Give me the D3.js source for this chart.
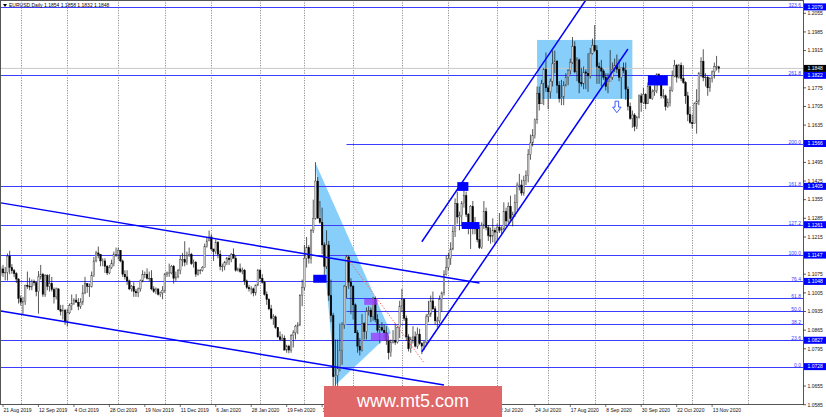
<!DOCTYPE html>
<html><head><meta charset="utf-8">
<script src="https://cdn.jsdelivr.net/npm/d3@7"></script>
<style>html,body{margin:0;padding:0;background:#fff;overflow:hidden}svg{display:block}</style>
</head><body>
<svg id="c" width="826" height="417"></svg>
<script>
// ---------------- DATA ----------------
const symbolTitle = "EURUSD,Daily";
const lastQuote = [1.1854, 1.1858, 1.1832, 1.1848];
const firstDate = "2019-08-20";
const holidays = ["2019-12-25", "2020-01-01"];

const opens = [
// Aug 2019
1.1078,1.1095,1.1080,1.1082,1.1143,1.1100,1.1088,1.1077,1.1057,
// Sep 2019
1.0985,1.0970,1.0972,1.1034,1.1030,1.1027,1.1047,1.1043,1.1010,1.1065,1.1075,1.1000,1.1070,1.1030,1.1040,1.1018,1.0990,1.1020,1.0942,1.0935,1.0940,
// Oct 2019
1.0900,1.0930,1.0957,1.0965,1.0978,1.0970,1.0955,1.0970,1.1005,1.1040,1.1030,1.1030,1.1070,1.1125,1.1155,1.1150,1.1125,1.1125,1.1105,1.1080,1.1100,1.1115,1.1150,
// Nov 2019
1.1150,1.1165,1.1125,1.1075,1.1065,1.1050,1.1020,1.1030,1.1010,1.1005,1.1020,1.1050,1.1075,1.1075,1.1060,1.1060,1.1020,1.1010,1.1020,1.1000,1.1005,
// Dec 2019
1.1015,1.1075,1.1080,1.1080,1.1105,1.1060,1.1065,1.1090,1.1130,1.1130,1.1120,1.1145,1.1150,1.1115,1.1120,1.1075,1.1090,1.1090,1.1100,1.1180,1.1200,
// Jan 2020
1.1215,1.1170,1.1160,1.1195,1.1150,1.1105,1.1105,1.1120,1.1135,1.1130,1.1150,1.1135,1.1090,1.1095,1.1085,1.1090,1.1050,1.1025,1.1020,1.1020,1.1005,1.1035,
// Feb 2020
1.1090,1.1060,1.1045,1.1000,1.0980,1.0945,1.0910,1.0915,1.0875,1.0840,1.0830,1.0835,1.0790,1.0805,1.0790,1.0845,1.0855,1.0880,1.0885,1.0995,
// Mar 2020
1.1025,1.1135,1.1175,1.1135,1.1240,1.1285,1.1425,1.1285,1.1270,1.1185,1.1105,1.1185,1.0995,1.0920,1.0690,1.0695,1.0720,1.0790,1.0885,1.1030,1.1140,1.1045,
// Apr 2020
1.1030,1.0960,1.0855,1.0805,1.0790,1.0890,1.0860,1.0935,1.0940,1.0915,1.0985,1.0905,1.0865,1.0875,1.0865,1.0855,1.0825,1.0780,1.0820,1.0825,1.0820,1.0875,
// May 2020
1.0955,1.0980,1.0910,1.0840,1.0795,1.0830,1.0840,1.0805,1.0850,1.0815,1.0805,1.0820,1.0915,1.0925,1.0975,1.0945,1.0900,1.0900,1.0980,1.1005,1.1075,
// Jun 2020
1.1100,1.1135,1.1170,1.1235,1.1340,1.1290,1.1295,1.1340,1.1370,1.1300,1.1255,1.1330,1.1265,1.1245,1.1205,1.1175,1.1260,1.1310,1.1250,1.1220,1.1218,1.1240,
// Jul 2020
1.1233,1.1252,1.1240,1.1245,1.1310,1.1275,1.1330,1.1285,1.1300,1.1345,1.1410,1.1410,1.1380,1.1428,1.1445,1.1525,1.1568,1.1595,1.1655,1.1755,1.1715,1.1790,1.1845,
// Aug 2020
1.1775,1.1760,1.1800,1.1865,1.1875,1.1785,1.1735,1.1740,1.1785,1.1815,1.1840,1.1870,1.1930,1.1835,1.1880,1.1795,1.1790,1.1835,1.1830,1.1820,1.1905,
// Sep 2020
1.1935,1.1915,1.1855,1.1850,1.1838,1.1815,1.1780,1.1800,1.1815,1.1845,1.1860,1.1845,1.1815,1.1850,1.1840,1.1770,1.1705,1.1660,1.1673,1.1630,1.1665,1.1745,
// Oct 2020
1.1720,1.1750,1.1715,1.1780,1.1735,1.1760,1.1765,1.1825,1.1815,1.1745,1.1745,1.1705,1.1720,1.1765,1.1820,1.1860,1.1815,1.1860,1.1810,1.1795,1.1745,1.1675,
// Nov 2020
1.1645,1.1640,1.1715,1.1725,1.1830,1.1875,1.1815,1.1815,1.1775,1.1810,1.1835,1.1855,1.1854
];
const highs = [
1.1104,1.1110,1.1102,1.1153,1.1163,1.1113,1.1095,1.1083,1.1060,
1.0995,1.0990,1.1035,1.1085,1.1062,1.1055,1.1055,1.1045,1.1087,1.1110,1.1080,1.1075,1.1075,1.1075,1.1065,1.1025,1.1025,1.1022,1.0960,1.0960,1.0945,
1.0945,1.0965,1.0999,1.0985,1.1000,1.0985,1.0985,1.1035,1.1065,1.1040,1.1040,1.1085,1.1140,1.1163,1.1179,1.1150,1.1135,1.1135,1.1110,1.1110,1.1130,1.1160,1.1175,
1.1175,1.1165,1.1130,1.1090,1.1090,1.1055,1.1035,1.1045,1.1020,1.1025,1.1055,1.1090,1.1085,1.1097,1.1085,1.1090,1.1030,1.1025,1.1020,1.1010,1.1030,
1.1080,1.1085,1.1115,1.1110,1.1110,1.1085,1.1095,1.1145,1.1155,1.1199,1.1160,1.1175,1.1155,1.1130,1.1125,1.1095,1.1095,1.1105,1.1190,1.1215,1.1239,
1.1225,1.1170,1.1205,1.1200,1.1165,1.1115,1.1125,1.1140,1.1145,1.1155,1.1172,1.1145,1.1100,1.1115,1.1100,1.1095,1.1055,1.1035,1.1030,1.1025,1.1035,1.1095,
1.1095,1.1075,1.1050,1.1010,1.0985,1.0960,1.0925,1.0920,1.0875,1.0860,1.0850,1.0845,1.0810,1.0810,1.0850,1.0865,1.0885,1.0895,1.1000,1.1055,
1.1185,1.1215,1.1185,1.1245,1.1355,1.1496,1.1440,1.1350,1.1325,1.1195,1.1240,1.1200,1.1055,1.0930,1.0830,1.0830,1.0890,1.0895,1.1035,1.1147,1.1145,1.1060,
1.1035,1.0965,1.0865,1.0835,1.0925,1.0895,1.0950,1.0955,1.0950,1.0990,1.0990,1.0925,1.0885,1.0895,1.0885,1.0880,1.0845,1.0830,1.0865,1.0890,1.0880,1.0975,
1.1020,1.0985,1.0920,1.0850,1.0840,1.0880,1.0860,1.0875,1.0870,1.0820,1.0825,1.0925,1.0975,1.0995,1.1010,1.0955,1.0915,1.0995,1.1010,1.1090,1.1145,
1.1155,1.1195,1.1255,1.1360,1.1385,1.1310,1.1350,1.1422,1.1385,1.1305,1.1335,1.1350,1.1290,1.1255,1.1255,1.1270,1.1350,1.1325,1.1260,1.1250,1.1285,1.1250,
1.1265,1.1305,1.1255,1.1345,1.1325,1.1345,1.1370,1.1310,1.1375,1.1420,1.1452,1.1430,1.1445,1.1465,1.1545,1.1600,1.1620,1.1660,1.1780,1.1780,1.1805,1.1850,1.1908,
1.1785,1.1810,1.1915,1.1915,1.1880,1.1800,1.1805,1.1800,1.1830,1.1845,1.1885,1.1966,1.1950,1.1890,1.1885,1.1850,1.1855,1.1845,1.1905,1.1925,1.1960,
1.2011,1.1935,1.1870,1.1880,1.1845,1.1830,1.1830,1.1917,1.1870,1.1885,1.1900,1.1882,1.1830,1.1870,1.1870,1.1780,1.1720,1.1690,1.1680,1.1670,1.1750,1.1755,
1.1775,1.1755,1.1795,1.1810,1.1770,1.1785,1.1830,1.1830,1.1820,1.1770,1.1750,1.1735,1.1780,1.1840,1.1880,1.1865,1.1865,1.1870,1.1860,1.1800,1.1760,1.1705,
1.1675,1.1720,1.1770,1.1835,1.1890,1.1920,1.1830,1.1820,1.1815,1.1840,1.1870,1.1895,1.1858
];
const lows = [
1.1068,1.1065,1.1052,1.1051,1.1075,1.1077,1.1064,1.1042,1.0965,
1.0957,1.0926,1.0960,1.1020,1.1015,1.1015,1.1032,1.0992,1.0927,1.1055,1.0990,1.0990,1.1015,1.1010,1.1010,1.0965,1.0980,1.0940,1.0920,1.0905,1.0885,
1.0879,1.0925,1.0940,1.0960,1.0970,1.0940,1.0945,1.0960,1.1000,1.1005,1.0990,1.1025,1.1065,1.1120,1.1135,1.1105,1.1105,1.1080,1.1072,1.1075,1.1095,1.1105,1.1140,
1.1130,1.1120,1.1065,1.1055,1.1035,1.1015,1.1010,1.0990,1.0990,1.0989,1.1010,1.1045,1.1060,1.1055,1.1050,1.1015,1.1005,1.1000,1.0995,1.0990,1.0981,
1.1005,1.1065,1.1065,1.1075,1.1040,1.1050,1.1060,1.1075,1.1105,1.1105,1.1110,1.1140,1.1110,1.1100,1.1065,1.1070,1.1075,1.1085,1.1100,1.1175,1.1200,
1.1165,1.1125,1.1150,1.1135,1.1090,1.1085,1.1090,1.1110,1.1110,1.1120,1.1140,1.1085,1.1085,1.1080,1.1075,1.1035,1.1020,1.1010,1.1000,1.0992,1.0995,1.1030,
1.1055,1.1040,1.0995,1.0960,1.0940,1.0905,1.0885,1.0870,1.0835,1.0826,1.0825,1.0790,1.0780,1.0778,1.0780,1.0800,1.0830,1.0850,1.0880,1.0955,
1.1015,1.1100,1.1115,1.1115,1.1230,1.1280,1.1285,1.1265,1.1150,1.1055,1.1095,1.0975,1.0895,1.0655,1.0636,1.0640,1.0710,1.0735,1.0870,1.0985,1.1020,1.0925,
1.0905,1.0855,1.0780,1.0770,1.0785,1.0830,1.0830,1.0920,1.0895,1.0900,1.0895,1.0855,1.0815,1.0860,1.0825,1.0810,1.0755,1.0765,1.0815,1.0810,1.0815,1.0835,
1.0935,1.0900,1.0825,1.0785,1.0780,1.0815,1.0800,1.0795,1.0810,1.0775,1.0790,1.0805,1.0895,1.0915,1.0940,1.0885,1.0875,1.0890,1.0935,1.0995,1.1070,
1.1090,1.1110,1.1165,1.1215,1.1265,1.1240,1.1255,1.1325,1.1290,1.1225,1.1170,1.1225,1.1225,1.1195,1.1170,1.1170,1.1245,1.1240,1.1200,1.1190,1.1195,1.1190,
1.1200,1.1230,1.1220,1.1240,1.1255,1.1265,1.1275,1.1255,1.1290,1.1315,1.1390,1.1370,1.1370,1.1410,1.1420,1.1505,1.1555,1.1585,1.1640,1.1690,1.1715,1.1710,1.1760,
1.1695,1.1735,1.1780,1.1830,1.1755,1.1720,1.1710,1.1710,1.1780,1.1785,1.1825,1.1865,1.1830,1.1800,1.1755,1.1780,1.1770,1.1770,1.1760,1.1810,1.1900,
1.1910,1.1790,1.1790,1.1780,1.1805,1.1765,1.1755,1.1800,1.1805,1.1835,1.1830,1.1800,1.1735,1.1830,1.1730,1.1690,1.1655,1.1625,1.1612,1.1620,1.1660,1.1685,
1.1715,1.1695,1.1715,1.1735,1.1730,1.1745,1.1755,1.1800,1.1735,1.1735,1.1690,1.1700,1.1705,1.1760,1.1815,1.1795,1.1810,1.1800,1.1790,1.1715,1.1650,1.1640,
1.1622,1.1640,1.1603,1.1710,1.1815,1.1800,1.1780,1.1745,1.1760,1.1795,1.1810,1.1840,1.1832
];
const closes = [
1.1095,1.1080,1.1082,1.1143,1.1100,1.1088,1.1077,1.1057,1.0985,
1.0970,1.0972,1.1034,1.1030,1.1027,1.1047,1.1043,1.1010,1.1065,1.1075,1.1000,1.1070,1.1030,1.1040,1.1018,1.0990,1.1020,1.0942,1.0935,1.0940,1.0900,
1.0930,1.0957,1.0965,1.0978,1.0970,1.0955,1.0970,1.1005,1.1040,1.1030,1.1030,1.1070,1.1125,1.1155,1.1150,1.1125,1.1125,1.1105,1.1080,1.1100,1.1115,1.1150,1.1150,
1.1165,1.1125,1.1075,1.1065,1.1050,1.1020,1.1030,1.1010,1.1005,1.1020,1.1050,1.1075,1.1075,1.1060,1.1060,1.1020,1.1010,1.1020,1.1000,1.1005,1.1015,
1.1075,1.1080,1.1080,1.1105,1.1060,1.1065,1.1090,1.1130,1.1130,1.1120,1.1145,1.1150,1.1115,1.1120,1.1075,1.1090,1.1090,1.1100,1.1180,1.1200,1.1215,
1.1170,1.1160,1.1195,1.1150,1.1105,1.1105,1.1120,1.1135,1.1130,1.1150,1.1135,1.1090,1.1095,1.1085,1.1090,1.1050,1.1025,1.1020,1.1020,1.1005,1.1035,1.1090,
1.1060,1.1045,1.1000,1.0980,1.0945,1.0910,1.0915,1.0875,1.0840,1.0830,1.0835,1.0790,1.0805,1.0790,1.0845,1.0855,1.0880,1.0885,1.0995,1.1025,
1.1135,1.1175,1.1135,1.1240,1.1285,1.1425,1.1285,1.1270,1.1185,1.1105,1.1185,1.0995,1.0920,1.0690,1.0695,1.0720,1.0790,1.0885,1.1030,1.1140,1.1045,1.1030,
1.0960,1.0855,1.0805,1.0790,1.0890,1.0860,1.0935,1.0940,1.0915,1.0985,1.0905,1.0865,1.0875,1.0865,1.0855,1.0825,1.0780,1.0820,1.0825,1.0820,1.0875,1.0955,
1.0980,1.0910,1.0840,1.0795,1.0830,1.0840,1.0805,1.0850,1.0815,1.0805,1.0820,1.0915,1.0925,1.0975,1.0945,1.0900,1.0900,1.0980,1.1005,1.1075,1.1100,
1.1135,1.1170,1.1235,1.1340,1.1290,1.1295,1.1340,1.1370,1.1300,1.1255,1.1330,1.1265,1.1245,1.1205,1.1175,1.1260,1.1310,1.1250,1.1220,1.1218,1.1240,1.1233,
1.1252,1.1240,1.1245,1.1310,1.1275,1.1330,1.1285,1.1300,1.1345,1.1410,1.1410,1.1380,1.1428,1.1445,1.1525,1.1568,1.1595,1.1655,1.1755,1.1715,1.1790,1.1845,1.1775,
1.1760,1.1800,1.1865,1.1875,1.1785,1.1735,1.1740,1.1785,1.1815,1.1840,1.1870,1.1930,1.1835,1.1880,1.1795,1.1790,1.1835,1.1830,1.1820,1.1905,1.1935,
1.1915,1.1855,1.1850,1.1838,1.1815,1.1780,1.1800,1.1815,1.1845,1.1860,1.1845,1.1815,1.1850,1.1840,1.1770,1.1705,1.1660,1.1673,1.1630,1.1665,1.1745,1.1720,
1.1750,1.1715,1.1780,1.1735,1.1760,1.1765,1.1825,1.1815,1.1745,1.1745,1.1705,1.1720,1.1765,1.1820,1.1860,1.1815,1.1860,1.1810,1.1795,1.1745,1.1675,1.1645,
1.1640,1.1715,1.1725,1.1830,1.1875,1.1815,1.1815,1.1775,1.1810,1.1835,1.1855,1.1855,1.1848
];

// price axis tick labels
const priceTicks = [1.2055,1.1985,1.1915,1.1845,1.1775,1.1705,1.1635,1.1565,1.1495,1.1425,1.1355,1.1285,1.1215,1.1145,1.1075,1.1005,1.0935,1.0865,1.0795,1.0725,1.0655,1.0585];
// fibonacci levels
const fibNames  = ["0.0","23.6","38.2","50.0","61.8","76.4","100.0","127.2","161.8","200.0","261.8","323.6"];
const fibPrices = [1.0728,1.0827,1.0888,1.0937,1.0987,1.1048,1.1147,1.1261,1.1405,1.1566,1.1822,1.2079];
const fibFromDate = ["","", "2020-03-27","2020-03-27","2020-03-27","","","","","2020-03-27","",""];
const fibTagged   = [true,true,false,false,false,true,true,true,true,true,true,true];
// month grid dates
const gridDates = ["2019-09-02","2019-10-01","2019-11-01","2019-12-02","2020-01-02","2020-02-03","2020-03-02","2020-04-01","2020-05-01","2020-06-01","2020-07-01","2020-08-03","2020-09-01","2020-10-01","2020-11-02","2020-12-01"];
// drawn objects (date, price anchors)
const descUpper = [["2019-08-20",1.1343],["2020-06-19",1.1042]];
const descLower = [["2019-08-20",1.0937],["2020-05-28",1.0659]];
const ascLower  = [["2020-05-14",1.0784],["2020-09-22",1.1921]];
const ascUpper  = [["2020-05-14",1.1197],["2020-08-26",1.2105]];
const redDotted = [["2020-03-27",1.1140],["2020-05-15",1.0742]];
const triangle  = [["2020-03-09",1.1493],["2020-03-20",1.0659],["2020-04-24",1.0855]];
const rangeBox  = [["2020-07-27",1.1955],["2020-09-24",1.1733]];
const blueBoxes = [[["2020-03-06",1.1073],["2020-03-16",1.1043]],
                   [["2020-06-05",1.1421],["2020-06-12",1.1388]],
                   [["2020-06-09",1.1271],["2020-06-19",1.1245]],
                   [["2020-10-05",1.1822],["2020-10-16",1.1784]]];
const purpleBoxes = [[["2020-04-08",1.0982],["2020-04-16",1.0960]],
                     [["2020-04-13",1.0855],["2020-04-23",1.0826]]];
const downArrow = ["2020-09-15",1.1725];

// ---------------- CHART ----------------
const W = 826, H = 417, plotR = 803, plotB = 404;
const FONT = "'Liberation Sans', Arial, sans-serif";
const svg = d3.select("#c");
svg.append("rect").attr("width", W).attr("height", H).attr("fill", "#fff");

// trading calendar
const parse = d3.utcParse("%Y-%m-%d"), fmtKey = d3.utcFormat("%Y-%m-%d");
const dates = [];
for (let d = parse(firstDate); dates.length < closes.length; d = d3.utcDay.offset(d, 1)) {
  const wd = d.getUTCDay();
  if (wd === 0 || wd === 6 || holidays.includes(fmtKey(d))) continue;
  dates.push(d);
}
const idxOf = {};
dates.forEach((d, i) => idxOf[fmtKey(d)] = i);
const lastIdx = dates.length - 1;
function toIdx(s) {
  if (s in idxOf) return idxOf[s];
  return lastIdx + d3.utcDay.count(dates[lastIdx], parse(s));
}
const bars = dates.map((d, i) => ({i, d, o: opens[i], h: highs[i], l: lows[i], c: closes[i]}));

const x = d3.scaleLinear().domain([0, lastIdx]).range([0.8, 0.8 + lastIdx * 2.216]);
const y = d3.scaleLinear().domain([1.0585, 1.2055]).range([404.7, 13.3]);
const px = a => [x(toIdx(a[0])), y(a[1])];

svg.append("clipPath").attr("id", "clip").append("rect")
  .attr("x", 0).attr("y", 0).attr("width", plotR).attr("height", plotB);
const plot = svg.append("g").attr("clip-path", "url(#clip)");

// vertical grid
plot.append("g").selectAll("line").data(gridDates).join("line")
  .attr("x1", d => Math.round(x(toIdx(d))) + 0.5).attr("x2", d => Math.round(x(toIdx(d))) + 0.5)
  .attr("y1", 0).attr("y2", plotB)
  .attr("stroke", "#777").attr("stroke-width", 0.8).attr("stroke-dasharray", "1.2,1.3");

// background filled shapes
const sky = "#87cefa";
plot.append("rect")
  .attr("x", px(rangeBox[0])[0]).attr("y", px(rangeBox[0])[1])
  .attr("width", px(rangeBox[1])[0] - px(rangeBox[0])[0])
  .attr("height", px(rangeBox[1])[1] - px(rangeBox[0])[1])
  .attr("fill", sky);
plot.append("path").attr("d", d3.line()(triangle.map(px)) + "Z").attr("fill", sky);

// current price line
plot.append("line").attr("x1", 0).attr("x2", plotR)
  .attr("y1", y(lastQuote[3])).attr("y2", y(lastQuote[3]))
  .attr("stroke", "#c8c8c8").attr("stroke-width", 1);

// fib horizontal lines
const fibColor = "#3c3cff";
plot.append("g").selectAll("line").data(fibPrices).join("line")
  .attr("x1", (p, k) => fibFromDate[k] ? x(toIdx(fibFromDate[k])) : 0)
  .attr("x2", plotR)
  .attr("y1", p => Math.round(y(p)) + 0.5).attr("y2", p => Math.round(y(p)) + 0.5)
  .attr("stroke", fibColor).attr("stroke-width", 1);

// candles
const cg = plot.append("g");
cg.selectAll("line").data(bars).join("line")
  .attr("x1", b => x(b.i)).attr("x2", b => x(b.i))
  .attr("y1", b => y(b.h)).attr("y2", b => y(b.l))
  .attr("stroke", "#111").attr("stroke-width", 0.7);
cg.selectAll("rect").data(bars).join("rect")
  .attr("x", b => x(b.i) - 0.8).attr("width", 1.6)
  .attr("y", b => y(Math.max(b.o, b.c)))
  .attr("height", b => Math.max(0.6, Math.abs(y(b.o) - y(b.c))))
  .attr("fill", b => b.c >= b.o ? "#d0d0d0" : "#000")
  .attr("stroke", b => b.c >= b.o ? "#444" : "#000").attr("stroke-width", 0.4);

// trend / channel lines
const chan = [descUpper, descLower, ascLower, ascUpper];
plot.append("g").selectAll("path").data(chan).join("path")
  .attr("d", seg => d3.line()(seg.map(px)))
  .attr("stroke", "#0000ff").attr("stroke-width", 1.5).attr("fill", "none");
plot.append("path").attr("d", d3.line()(redDotted.map(px)))
  .attr("stroke", "#ff5a5a").attr("stroke-width", 1).attr("stroke-dasharray", "1.3,1.7").attr("fill", "none");

// marker boxes
function boxRect(sel, box) {
  const a = px(box[0]), b = px(box[1]);
  return sel.attr("x", a[0]).attr("y", a[1]).attr("width", b[0] - a[0]).attr("height", b[1] - a[1]);
}
blueBoxes.forEach(bx => boxRect(plot.append("rect"), bx).attr("fill", "#0000ff"));
purpleBoxes.forEach(bx => boxRect(plot.append("rect"), bx).attr("fill", "#9a3cff").attr("opacity", 0.78));

// hollow down arrow
const ap = px(downArrow);
plot.append("path")
  .attr("transform", `translate(${ap[0]},${ap[1]})`)
  .attr("d", "M-1.8,0 L1.8,0 L1.8,6 L4.2,6 L0,11.5 L-4.2,6 L-1.8,6 Z")
  .attr("fill", "#fff").attr("stroke", "#2a4cff").attr("stroke-width", 0.9);

// fib labels
svg.append("g").selectAll("text").data(fibPrices).join("text")
  .attr("x", 801).attr("y", p => Math.round(y(p)) - 0.3)
  .attr("text-anchor", "end").attr("font-family", FONT).attr("font-size", 5)
  .attr("fill", fibColor).text((p, k) => fibNames[k]);

// frame
svg.append("rect").attr("x", 0.5).attr("y", 0.5).attr("width", plotR).attr("height", plotB)
  .attr("fill", "none").attr("stroke", "#555").attr("stroke-width", 1);

// price axis
const yAxis = svg.append("g");
yAxis.selectAll("line").data(priceTicks).join("line")
  .attr("x1", plotR).attr("x2", plotR + 3)
  .attr("y1", p => y(p)).attr("y2", p => y(p)).attr("stroke", "#333").attr("stroke-width", 0.8);
yAxis.selectAll("text").data(priceTicks).join("text")
  .attr("x", plotR + 4.5).attr("y", p => y(p) + 1.8)
  .attr("font-family", FONT).attr("font-size", 5).attr("fill", "#111")
  .text(p => p.toFixed(4));

// tagged price boxes
const tags = fibPrices.filter((p, k) => fibTagged[k]).map(p => ({p, fill: "#0000ff"}));
tags.push({p: lastQuote[3], fill: "#000"});
const tg = svg.append("g").selectAll("g").data(tags).join("g");
tg.append("rect").attr("x", plotR + 1).attr("y", d => y(d.p) - 3.5)
  .attr("width", W - plotR - 1).attr("height", 7).attr("fill", d => d.fill);
tg.append("text").attr("x", plotR + 4.5).attr("y", d => y(d.p) + 1.8)
  .attr("font-family", FONT).attr("font-size", 5).attr("fill", "#fff")
  .text(d => d.p.toFixed(4));

// watermark box geometry
const wmX0 = 324, wmX1 = 502;

// time axis labels every 16 bars starting at 21 Aug 2019 (those fully under the watermark are hidden)
const fmtDate = d3.utcFormat("%-d %b %Y");
const labelIdx = d3.range(toIdx("2019-08-21"), lastIdx + 1, 16)
  .filter(i => !(x(i) > wmX0 && x(i) + 26 < wmX1));
const xg = svg.append("g");
xg.selectAll("line").data(labelIdx).join("line")
  .attr("x1", i => x(i)).attr("x2", i => x(i)).attr("y1", plotB + 0.5).attr("y2", plotB + 3)
  .attr("stroke", "#333").attr("stroke-width", 0.7);
xg.selectAll("text").data(labelIdx).join("text")
  .attr("x", i => x(i) + 0.5).attr("y", 412)
  .attr("font-family", FONT).attr("font-size", 5).attr("fill", "#111")
  .text(i => fmtDate(dates[i]));

// title
svg.append("path").attr("d", "M3,4 L7,4 L5,7 Z").attr("fill", "#000");
svg.append("text").attr("x", 9).attr("y", 7.3)
  .attr("font-family", FONT).attr("font-size", 5).attr("fill", "#000")
  .text(symbolTitle + "  " + lastQuote.map(v => v.toFixed(4)).join(" "));

// watermark
svg.append("rect").attr("x", wmX0).attr("y", 386).attr("width", wmX1 - wmX0).attr("height", 31).attr("fill", "#e06767");
svg.append("text").attr("x", (wmX0 + wmX1) / 2).attr("y", 407).attr("text-anchor", "middle")
  .attr("font-family", FONT).attr("font-size", 18).attr("fill", "#fff").text("www.mt5.com");
</script>
</body></html>
